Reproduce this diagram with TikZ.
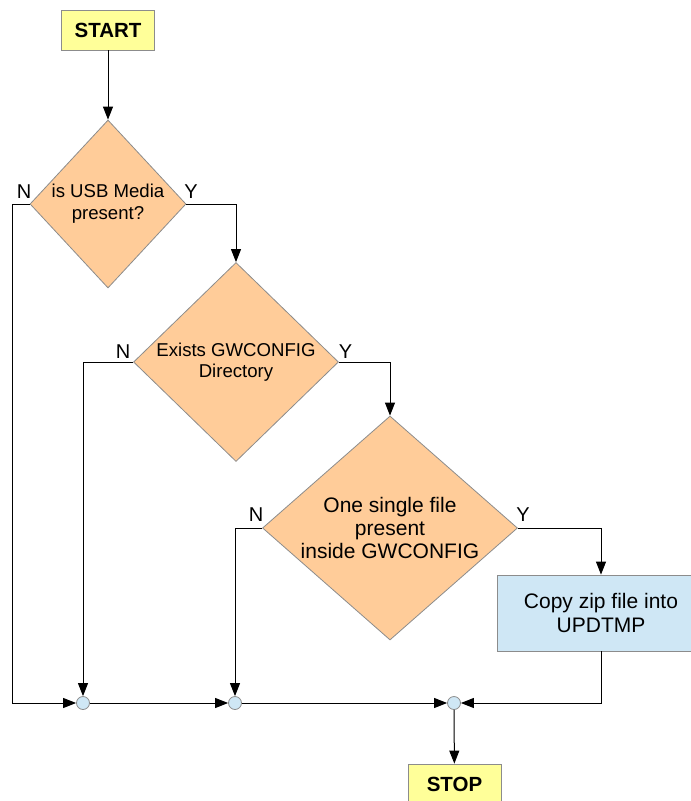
\documentclass[tikz,border=0pt]{standalone}
\usepackage{fontspec}
\setmainfont{Liberation Sans}
\usetikzlibrary{shapes.geometric,arrows.meta}
\definecolor{termfill}{HTML}{FFFF99}
\definecolor{decfill}{HTML}{FFCC99}
\definecolor{procfill}{HTML}{CFE7F5}
\definecolor{edgegray}{HTML}{8C8C8C}
\begin{document}
\begin{tikzpicture}[x=1pt,y=-1pt,
  terminal/.style={draw=edgegray,fill=termfill,line width=0.8pt,minimum width=93pt,minimum height=40pt,inner sep=0pt,font=\fontsize{20.5}{24}\selectfont\bfseries},
  decision/.style={diamond,draw=edgegray,fill=decfill,line width=0.8pt,inner sep=0pt},
  dectext/.style={align=center,inner sep=0pt},
  process/.style={draw=edgegray,fill=procfill,line width=0.8pt,minimum width=208pt,minimum height=76pt,inner sep=0pt,align=center,font=\fontsize{21}{24.5}\selectfont},
  junction/.style={circle,draw=edgegray,fill=procfill,line width=0.8pt,minimum size=13pt,inner sep=0pt},
  yn/.style={inner sep=0pt,font=\fontsize{20}{24}\selectfont},
  arr/.style={line width=1pt,-{Triangle[length=13pt,width=10pt]}},
  plain/.style={line width=1pt}]
\useasboundingbox (0,0) rectangle (691,801);

% terminals
\node[terminal] (start) at (108,30) {START};
\node[terminal] (stop) at (454.5,784) {STOP};

% decisions
\node[decision,minimum width=156pt,minimum height=168pt] (d1) at (108,204) {};
\node[dectext,font=\fontsize{18.6}{22}\selectfont] at (d1) {is USB Media\\present?};
\node[decision,minimum width=205pt,minimum height=199pt] (d2) at (236,362) {};
\node[dectext,font=\fontsize{18.6}{21.5}\selectfont] at (d2) {Exists GWCONFIG\\Directory};
\node[decision,minimum width=255pt,minimum height=224pt] (d3) at (390,528) {};
\node[dectext,font=\fontsize{21}{23}\selectfont] at (d3) {One single file\\present\\inside GWCONFIG};

% process step
\node[process] (copy) at (601,613) {Copy zip file into\\UPDTMP};

% merge points
\node[junction] (j1) at (83,703) {};
\node[junction] (j2) at (235,703) {};
\node[junction] (j3) at (454,703) {};

% branch labels
\node[yn] at (24,192) {N};
\node[yn] at (191,192) {Y};
\node[yn] at (123,352) {N};
\node[yn] at (345.5,352) {Y};
\node[yn] at (256,515) {N};
\node[yn] at (523,515) {Y};

% connectors
\draw[arr] (start) -- (d1);
\draw[arr] (d1.west) -- ++(-17,0) |- (j1);
\draw[arr] (d1.east) -| (d2.north);
\draw[arr] (d2.west) -| (j1);
\draw[arr] (d2.east) -| (d3.north);
\draw[arr] (d3.west) -| (j2);
\draw[arr] (d3.east) -| (copy.north);
\draw[arr] (copy.south) |- (j3);
\draw[arr] (j1) -- (j2);
\draw[arr] (j2) -- (j3);
\draw[arr] (j3) -- (stop);
\end{tikzpicture}
\end{document}
